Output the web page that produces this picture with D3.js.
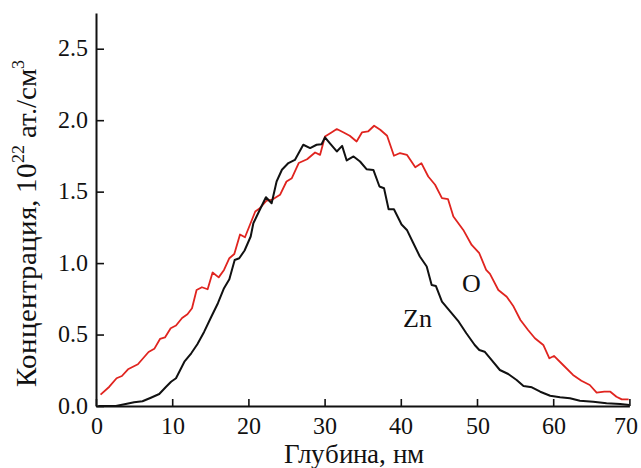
<!DOCTYPE html>
<html>
<head>
<meta charset="utf-8">
<script src="https://cdn.jsdelivr.net/npm/d3@7"></script>
<style>
  @font-face { font-family: "ChartSerif"; src: local("Liberation Serif"), local("LiberationSerif-Regular"), local("Times New Roman"); }
  svg text, svg tspan { font-family: "ChartSerif", "Liberation Serif", "Times New Roman", Tinos !important; }
</style>
</head>
<body style="margin:0">
<script>
// depth (nm) and concentration (10^22 at./cm^3)
var depth_o = [0.6,1.75,2.7,3.4,4.2,5.5,6.9,7.65,8.4,9.05,9.8,10.5,11.3,12.0,12.6,13.2,13.9,14.65,15.3,16.1,16.8,17.5,18.15,18.9,19.55,20.9,21.5,22.4,23.05,24.15,25.0,25.7,26.6,27.7,28.75,29.4,30.05,30.9,31.6,32.5,33.3,34.2,34.9,35.7,36.5,37.3,38.2,39.1,39.9,40.8,41.9,42.7,43.6,44.5,45.4,46.2,46.9,48.2,49.3,50.3,51.2,51.7,52.8,53.9,54.8,55.7,56.7,57.6,58.7,59.5,60.1,61.3,62.6,63.7,64.8,65.7,66.7,67.5,68.3,69.0,69.9];
var conc_o  = [0.08,0.135,0.194,0.21,0.257,0.292,0.378,0.40,0.469,0.48,0.544,0.563,0.616,0.642,0.684,0.812,0.831,0.817,0.934,0.90,0.952,1.034,1.064,1.2,1.181,1.361,1.384,1.438,1.442,1.478,1.571,1.594,1.70,1.727,1.774,1.757,1.886,1.914,1.938,1.914,1.891,1.851,1.914,1.921,1.961,1.933,1.891,1.751,1.77,1.758,1.671,1.699,1.606,1.548,1.454,1.447,1.326,1.232,1.127,1.069,0.952,0.924,0.812,0.765,0.696,0.602,0.532,0.474,0.427,0.334,0.350,0.287,0.217,0.177,0.147,0.093,0.10,0.10,0.065,0.046,0.046];

var depth_zn = [0.3,2.6,3.9,5.0,6.1,7.2,8.3,9.2,9.85,10.5,11.6,12.5,13.3,14.2,15.1,16.0,16.8,17.5,18.2,18.8,19.5,20.3,20.65,21.5,22.3,23.05,23.7,24.4,25.25,26.1,27.2,28.1,28.95,29.6,30.05,30.7,31.6,32.3,32.9,33.8,34.65,35.5,36.4,37.2,37.8,38.4,39.1,40.1,40.8,41.65,42.5,43.4,44.05,44.6,45.4,46.5,47.6,48.6,49.7,50.3,51.0,51.9,53.0,54.1,55.2,56.1,57.2,58.3,59.6,60.9,62.2,63.5,65.25,67.0,68.8,70.0];
var conc_zn  = [0,0,0.014,0.026,0.033,0.058,0.084,0.135,0.17,0.194,0.31,0.369,0.432,0.52,0.621,0.719,0.824,0.887,1.022,1.034,1.088,1.186,1.279,1.373,1.461,1.419,1.571,1.653,1.70,1.722,1.828,1.805,1.828,1.832,1.88,1.838,1.781,1.82,1.718,1.746,1.711,1.657,1.652,1.536,1.524,1.377,1.377,1.27,1.232,1.139,1.046,0.976,0.847,0.84,0.73,0.66,0.59,0.509,0.427,0.392,0.38,0.322,0.252,0.224,0.182,0.14,0.131,0.10,0.072,0.061,0.054,0.037,0.030,0.019,0.014,0.007];

var x_ticks = [0,10,20,30,40,50,60,70];
var y_ticks = [0,0.5,1.0,1.5,2.0,2.5];

var chart_w = 641;
var chart_h = 468;
var serif_family = "'Times New Roman'";

var x = d3.scaleLinear().domain([0, 70]).range([96, 629.4]);
var y = d3.scaleLinear().domain([0, 2.75]).range([406, 13]);

var svg = d3.select("body").append("svg")
  .attr("width", chart_w)
  .attr("height", chart_h)
  .attr("font-family", "Times New Roman");

function series (depth, conc) {
  return depth.map(function (d, i) { return [d, conc[i]]; });
}

var curve = d3.line()
  .x(function (d) { return x(d[0]); })
  .y(function (d) { return y(d[1]); });

// curves first, axes drawn on top
svg.append("path")
  .datum(series(depth_o, conc_o))
  .attr("d", curve)
  .attr("fill", "none")
  .attr("stroke", "#e0241f")
  .attr("stroke-width", 1.8)
  .attr("stroke-linejoin", "round");

svg.append("path")
  .datum(series(depth_zn, conc_zn))
  .attr("d", curve)
  .attr("fill", "none")
  .attr("stroke", "#111")
  .attr("stroke-width", 2)
  .attr("stroke-linejoin", "round");

var x_axis = svg.append("g")
  .attr("transform", "translate(0," + y(0) + ")")
  .call(d3.axisBottom(x).tickValues(x_ticks).tickSizeInner(-7).tickSizeOuter(0).tickPadding(11));

var y_axis = svg.append("g")
  .attr("transform", "translate(" + x(0) + ",0)")
  .call(d3.axisLeft(y).tickValues(y_ticks).tickFormat(d3.format(".1f")).tickSizeInner(-8).tickSizeOuter(0).tickPadding(8));

[x_axis, y_axis].forEach(function (g) {
  g.attr("font-family", "Times New Roman").attr("font-size", null);
  g.select(".domain").attr("stroke", "#111").attr("stroke-width", 2);
  g.selectAll(".tick line").attr("stroke", "#111").attr("stroke-width", 1.6);
  g.selectAll(".tick text")
    .attr("font-family", "Times New Roman")
    .style("font-size", "24px")
    .attr("fill", "#111");
});
x_axis.selectAll(".tick text").attr("dy", "0.71em");
// keep the last label inside the right edge
x_axis.selectAll(".tick text").filter(function (d) { return d === 70; }).attr("dx", -4);
y_axis.selectAll(".tick text").attr("dy", "0.3em");

// axis titles
svg.append("text")
  .attr("x", 354)
  .attr("y", 463)
  .attr("text-anchor", "middle")
  .style("font-family", serif_family)
  .style("font-size", "27px")
  .attr("fill", "#111")
  .text("Глубина, нм");

var y_title = svg.append("text")
  .attr("transform", "translate(36,223) rotate(-90)")
  .attr("text-anchor", "middle")
  .style("font-family", serif_family)
  .style("font-size", "29px")
  .attr("fill", "#111");
y_title.append("tspan").text("Концентрация, 10");
y_title.append("tspan").attr("dy", -12).style("font-size", "18px").text("22");
y_title.append("tspan").attr("dy", 12).text(" ат./см");
y_title.append("tspan").attr("dy", -12).style("font-size", "18px").text("3");

// curve labels
svg.append("text").attr("x", 403).attr("y", 327)
  .style("font-family", serif_family).style("font-size", "26px").attr("fill", "#111").text("Zn");
svg.append("text").attr("x", 462).attr("y", 292)
  .style("font-family", serif_family).style("font-size", "26px").attr("fill", "#111").text("O");
</script>
</body>
</html>
